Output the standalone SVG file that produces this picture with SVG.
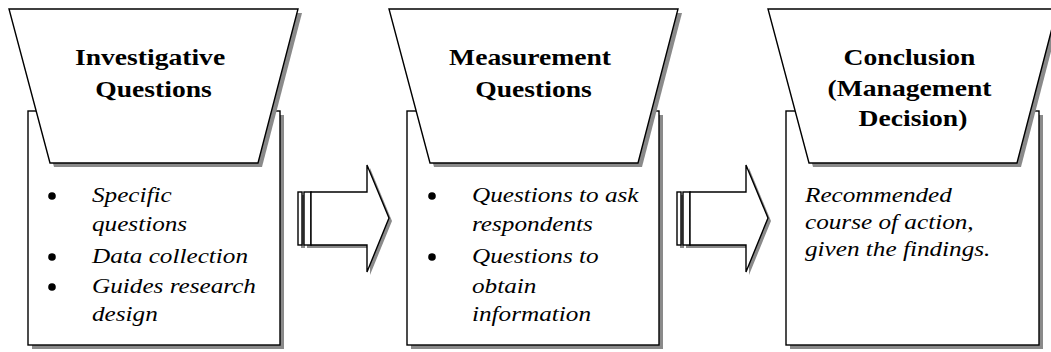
<svg xmlns="http://www.w3.org/2000/svg" width="1051" height="352" viewBox="0 0 1051 352">
  <style>
    .shadow { fill: #8a8a8a; stroke: none; }
    .shape { fill: #ffffff; stroke: #000000; stroke-width: 1.4; stroke-linejoin: miter; }
    .head { font-family: "Liberation Serif", "Times New Roman", serif; font-weight: bold; font-size: 23px; fill: #000000; text-anchor: middle; }
    .body { font-family: "Liberation Serif", "Times New Roman", serif; font-style: italic; font-size: 21px; fill: #000000; }
    .dot { fill: #000000; }
  </style>

  <!-- stage 1 -->
  <g id="node-investigative">
    <rect class="shadow" fill="#8a8a8a" x="32" y="115" width="252" height="234"/>
    <rect class="shape" x="28" y="111" width="252" height="234"/>
    <polygon class="shadow" fill="#8a8a8a" points="13,13 302,13 262,167 54,167"/>
    <polygon class="shape" points="9,9 298,9 258,163 50,163"/>
    <text class="head" transform="translate(153.5 0) scale(1.2 1)">
      <tspan x="0" y="65">Investigative</tspan>
      <tspan x="0" y="97">Questions</tspan>
    </text>
    <circle class="dot" cx="52" cy="196" r="3.8"/>
    <circle class="dot" cx="52" cy="257" r="3.8"/>
    <circle class="dot" cx="52" cy="287" r="3.8"/>
    <text class="body" transform="translate(92 0) scale(1.2 1)">
      <tspan x="0" y="202">Specific</tspan>
      <tspan x="0" y="231">questions</tspan>
      <tspan x="0" y="263">Data collection</tspan>
      <tspan x="0" y="293">Guides research</tspan>
      <tspan x="0" y="321">design</tspan>
    </text>
  </g>

  <!-- stage 2 -->
  <g id="node-measurement">
    <rect class="shadow" fill="#8a8a8a" x="411" y="115" width="252" height="234"/>
    <rect class="shape" x="407" y="111" width="252" height="234"/>
    <polygon class="shadow" fill="#8a8a8a" points="393,13 682,13 642,167 434,167"/>
    <polygon class="shape" points="389,9 678,9 638,163 430,163"/>
    <text class="head" transform="translate(533.5 0) scale(1.2 1)">
      <tspan x="0" y="65">Measurement</tspan>
      <tspan x="0" y="97">Questions</tspan>
    </text>
    <circle class="dot" cx="432" cy="196" r="3.8"/>
    <circle class="dot" cx="432" cy="257" r="3.8"/>
    <text class="body" transform="translate(472 0) scale(1.2 1)">
      <tspan x="0" y="202">Questions to ask</tspan>
      <tspan x="0" y="231">respondents</tspan>
      <tspan x="0" y="263">Questions to</tspan>
      <tspan x="0" y="293">obtain</tspan>
      <tspan x="0" y="321">information</tspan>
    </text>
  </g>

  <!-- stage 3 -->
  <g id="node-conclusion">
    <rect class="shadow" fill="#8a8a8a" x="790" y="115" width="253" height="234"/>
    <rect class="shape" x="786" y="111" width="253" height="234"/>
    <polygon class="shadow" fill="#8a8a8a" points="772,13 1061,13 1021,167 813,167"/>
    <polygon class="shape" points="768,9 1057,9 1017,163 809,163"/>
    <text class="head" transform="translate(913 0) scale(1.2 1)">
      <tspan x="0" y="65">Conclusion</tspan>
      <tspan x="0" y="96">(Management</tspan>
      <tspan x="0" y="126">Decision)</tspan>
    </text>
    <text class="body" transform="translate(805 0) scale(1.2 1)">
      <tspan x="0" y="202">Recommended</tspan>
      <tspan x="0" y="229">course of action,</tspan>
      <tspan x="0" y="256">given the findings.</tspan>
    </text>
  </g>

  <!-- striped block arrows between stages -->
  <g id="connectors">
    <g id="arrow-1-2">
      <rect class="shadow" fill="#8a8a8a" x="301" y="195" width="4" height="53"/>
      <rect class="shadow" fill="#8a8a8a" x="307" y="195" width="7" height="53"/>
      <polygon class="shadow" fill="#8a8a8a" points="314,195 370,195 370,168 392,221 370,275 370,248 314,248"/>
      <rect class="shape" x="298" y="192" width="4" height="53"/>
      <rect class="shape" x="304" y="192" width="7" height="53"/>
      <polygon class="shape" points="311,192 367,192 367,165 389,218 367,272 367,245 311,245"/>
    </g>
    <g id="arrow-2-3">
      <rect class="shadow" fill="#8a8a8a" x="680" y="195" width="4" height="53"/>
      <rect class="shadow" fill="#8a8a8a" x="686" y="195" width="7" height="53"/>
      <polygon class="shadow" fill="#8a8a8a" points="693,195 749,195 749,168 771,221 749,275 749,248 693,248"/>
      <rect class="shape" x="677" y="192" width="4" height="53"/>
      <rect class="shape" x="683" y="192" width="7" height="53"/>
      <polygon class="shape" points="690,192 746,192 746,165 768,218 746,272 746,245 690,245"/>
    </g>
  </g>
</svg>
